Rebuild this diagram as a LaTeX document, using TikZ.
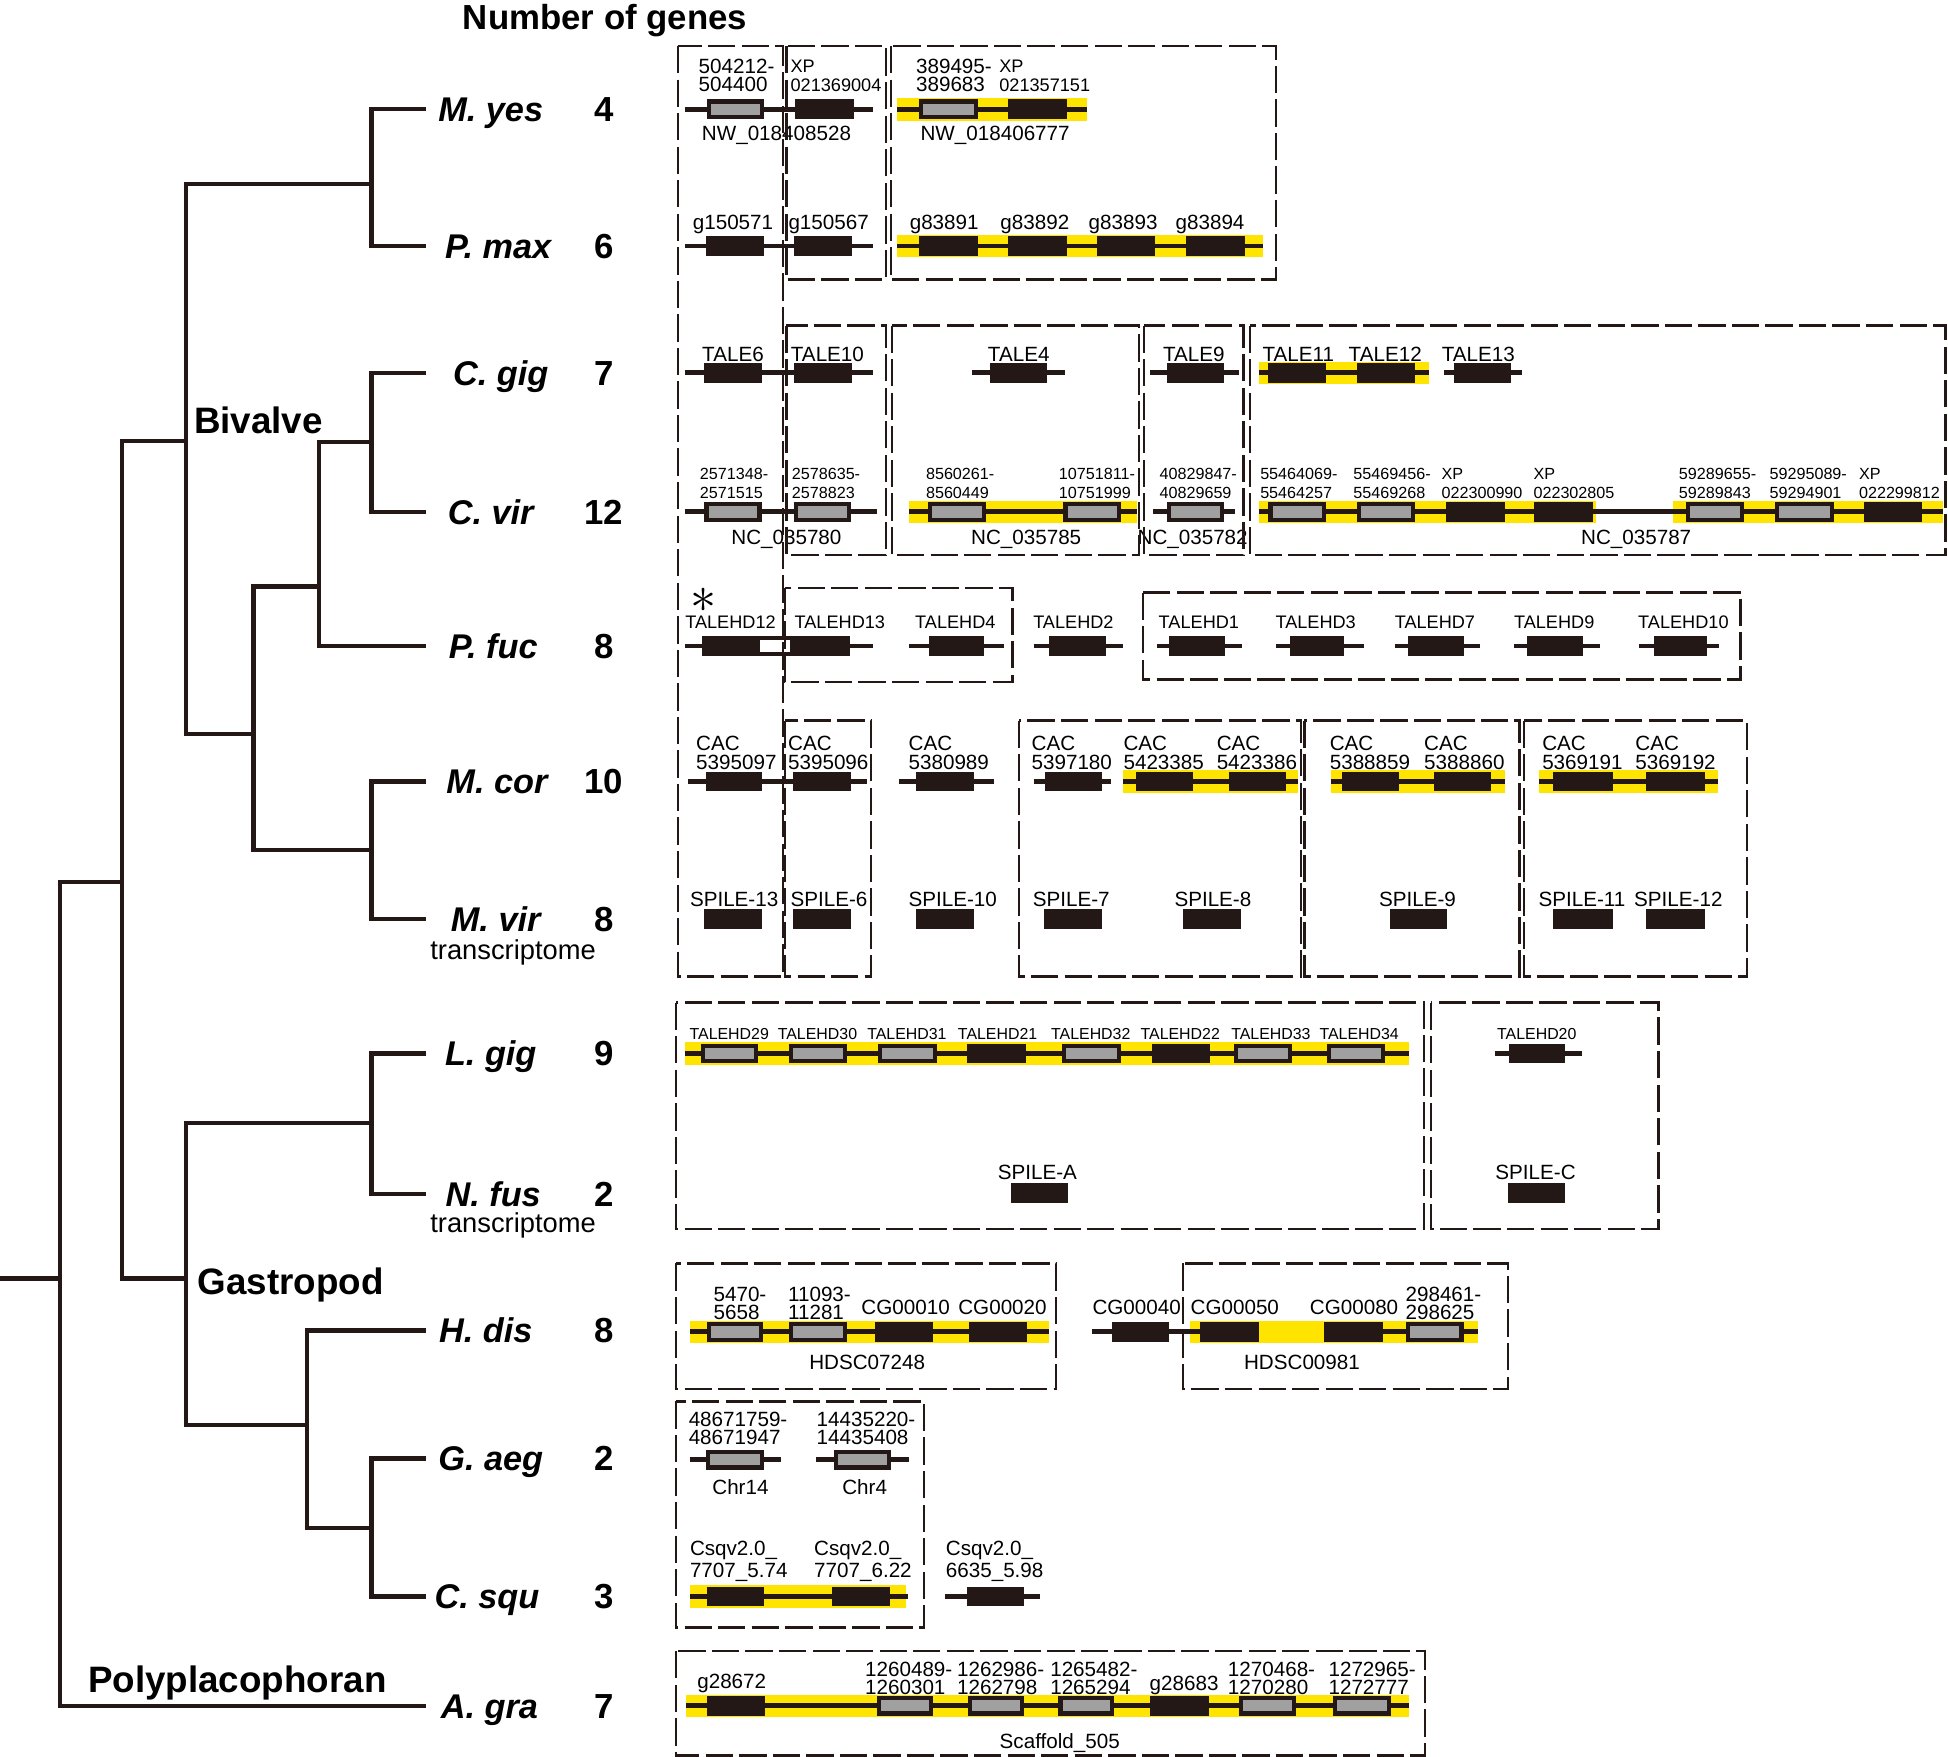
\documentclass[tikz,border=0pt]{standalone}
\usepackage{fontspec}
\setmainfont{Liberation Sans}
\definecolor{inkdark}{RGB}{35,24,21}
\definecolor{hlyellow}{RGB}{255,228,0}
\definecolor{genegrey}{RGB}{160,160,160}

% gene track elements: {x start}{x end}{row y}
\newcommand{\genetrack}[3]{\draw[track] (#1,#3) -- (#2,#3);}
\newcommand{\geneband}[3]{\fill[hlyellow] (#1,#3-9) rectangle (#2,#3+9);}
\newcommand{\geneB}[3]{\fill[inkdark] (#1,#3-8) rectangle (#2,#3+8);}
\newcommand{\geneG}[3]{\fill[inkdark] (#1,#3-8) rectangle (#2,#3+8);
  \fill[genegrey] (#1+3.3,#3-4.6) rectangle (#2-3.3,#3+4.6);}

\tikzset{
  branch/.style={draw=inkdark, line width=1.7pt},
  track/.style={draw=inkdark, line width=1.9pt},
  locus/.style={draw=inkdark, line width=0.9pt, dash pattern=on 11pt off 2.5pt},
  lab/.style={inner sep=0pt, font=\fontsize{8.3}{7.3}\selectfont},
  labtwo/.style={lab, align=left, anchor=west},
  smallnum/.style={font=\fontsize{6.5}{7.8}\selectfont},
  midlab/.style={font=\fontsize{7.3}{7.3}\selectfont},
  tinylab/.style={font=\fontsize{6.4}{7}\selectfont},
  csqlab/.style={font=\fontsize{8.3}{9}\selectfont},
  species/.style={anchor=base, inner sep=0pt, font=\fontsize{13.8}{16}\selectfont\bfseries\itshape},
  count/.style={anchor=base, inner sep=0pt, font=\fontsize{14}{16}\selectfont\bfseries},
  clade/.style={anchor=base, inner sep=0pt, font=\fontsize{14.8}{17}\selectfont\bfseries},
  seqtype/.style={anchor=base, inner sep=0pt, font=\fontsize{11}{13}\selectfont},
}

\begin{document}
\begin{tikzpicture}[x=0.5pt, y=-0.5pt]
\useasboundingbox (0,0) rectangle (1568,1414);

% tree junctions and leaf ends
\coordinate (root) at (0,1029);
\coordinate (jA) at (48,1029);
\coordinate (jMain) at (98,710);
\coordinate (jBiv) at (150,355);
\coordinate (jGas) at (150,1029);
\coordinate (jMP) at (299,148);
\coordinate (jCM) at (204,591);
\coordinate (jCP) at (257,472);
\coordinate (jCC) at (299,356);
\coordinate (jMM) at (299,684);
\coordinate (jLN) at (299,904);
\coordinate (jHG) at (247,1147);
\coordinate (jGC) at (299,1230);
\coordinate (lMyes) at (343,88);
\coordinate (lPmax) at (343,198);
\coordinate (lCgig) at (343,300);
\coordinate (lCvir) at (343,412);
\coordinate (lPfuc) at (343,520);
\coordinate (lMcor) at (343,629);
\coordinate (lMvir) at (343,740);
\coordinate (lLgig) at (343,848);
\coordinate (lNfus) at (343,961);
\coordinate (lHdis) at (343,1071);
\coordinate (lGaeg) at (343,1174);
\coordinate (lCsqu) at (343,1285);
\coordinate (lAgra) at (343,1373);

\draw[branch] (root) -- (jA);
\draw[branch] (jA) |- (jMain);
\draw[branch] (jA) |- (lAgra);
\draw[branch] (jMain) |- (jBiv);
\draw[branch] (jMain) |- (jGas);
\draw[branch] (jBiv) |- (jMP);
\draw[branch] (jBiv) |- (jCM);
\draw[branch] (jMP) |- (lMyes);
\draw[branch] (jMP) |- (lPmax);
\draw[branch] (jCM) |- (jCP);
\draw[branch] (jCM) |- (jMM);
\draw[branch] (jCP) |- (jCC);
\draw[branch] (jCP) |- (lPfuc);
\draw[branch] (jCC) |- (lCgig);
\draw[branch] (jCC) |- (lCvir);
\draw[branch] (jMM) |- (lMcor);
\draw[branch] (jMM) |- (lMvir);
\draw[branch] (jGas) |- (jLN);
\draw[branch] (jGas) |- (jHG);
\draw[branch] (jLN) |- (lLgig);
\draw[branch] (jLN) |- (lNfus);
\draw[branch] (jHG) |- (lHdis);
\draw[branch] (jHG) |- (jGC);
\draw[branch] (jGC) |- (lGaeg);
\draw[branch] (jGC) |- (lCsqu);

\node[clade] (cBiv) at (208,349) {Bivalve};
\node[clade] (cGas) at (234,1042) {Gastropod};
\node[clade] (cPol) at (191,1362) {Polyplacophoran};

% species and gene counts
\node[count] (title) at (487,24) {Number of genes};
\foreach \x/\y/\s/\n [count=\i] in {395/88/M. yes/4, 401/198/P. max/6, 403/300/C. gig/7,
    395/412/C. vir/12, 397/520/P. fuc/8, 400/629/M. cor/10, 399/740/M. vir/8,
    395/848/L. gig/9, 397/961/N. fus/2, 391/1071/H. dis/8, 395/1174/G. aeg/2,
    392/1285/C. squ/3, 394/1373/A. gra/7} {
  \node[species] (sp\i) at (\x,\y+10) {\s};
  \node[count] (nb\i) at (486,\y+10) {\n};
}
\node[seqtype] (tsMvir) at (413,772) {transcriptome};
\node[seqtype] (tsNfus) at (413,992) {transcriptome};

% M. yes
\genetrack{551}{703}{88}
\geneG{569}{615}{88}
\geneB{640}{687}{88}
\geneband{722}{875}{88}
\genetrack{722}{875}{88}
\geneG{740}{787}{88}
\geneB{811}{859}{88}
\node[labtwo] (myA) at (562,61) {504212-\\504400};
\node[labtwo, midlab] (myB) at (636,61) {XP\\021369004};
\node[lab] (myC) at (625,109) {NW\_018408528};
\node[labtwo] (myD) at (737,61) {389495-\\389683};
\node[labtwo, midlab] (myE) at (804,61) {XP\\021357151};
\node[lab] (myF) at (801,109) {NW\_018406777};

% P. max
\genetrack{551}{703}{198}
\geneB{568}{615}{198}
\geneB{639}{686}{198}
\geneband{722}{1017}{198}
\genetrack{722}{1017}{198}
\foreach \a/\b in {740/787,811/859,883/930,955/1002} {\geneB{\a}{\b}{198}}
\foreach \x/\t in {590/g150571,667/g150567,760/g83891,833/g83892,904/g83893,974/g83894}
  {\node[lab] (pm\t) at (\x,181) {\t};}

% C. gig
\genetrack{551}{703}{300}
\geneB{567}{613}{300}
\geneB{639}{686}{300}
\genetrack{782}{857}{300}
\geneB{797}{843}{300}
\genetrack{926}{997}{300}
\geneB{939}{985}{300}
\geneband{1013}{1150}{300}
\genetrack{1013}{1150}{300}
\geneB{1021}{1067}{300}
\geneB{1092}{1139}{300}
\genetrack{1162}{1225}{300}
\geneB{1170}{1216}{300}
\foreach \x/\t in {590/6,666/10,820/4,961/9,1045/11,1115/12,1190/13}
  {\node[lab] (cg\t) at (\x,285) {TALE\t};}

% C. vir
\genetrack{551}{706}{412}
\geneG{567}{613}{412}
\geneG{639}{685}{412}
\geneband{732}{915}{412}
\genetrack{732}{915}{412}
\geneG{747}{794}{412}
\geneG{856}{902}{412}
\genetrack{928}{994}{412}
\geneG{939}{985}{412}
\geneband{1013}{1285}{412}
\geneband{1347}{1564}{412}
\genetrack{1013}{1564}{412}
\geneG{1021}{1067}{412}
\geneG{1092}{1139}{412}
\geneB{1164}{1211}{412}
\geneB{1235}{1282}{412}
\geneG{1357}{1404}{412}
\geneG{1429}{1476}{412}
\geneB{1500}{1547}{412}
\foreach \x/\fa/\fb [count=\i] in {563/2571348-/2571515, 637/2578635-/2578823,
    745/8560261-/8560449, 852/10751811-/10751999, 933/40829847-/40829659,
    1014/55464069-/55464257, 1089/55469456-/55469268, 1160/XP/022300990,
    1234/XP/022302805, 1351/59289655-/59289843, 1424/59295089-/59294901,
    1496/XP/022299812}
  {\node[labtwo, smallnum] (cv\i) at (\x,389) {\fa\\\fb};}
\foreach \x/\t in {633/035780,826/035785,960/035782,1317/035787}
  {\node[lab] (nc\t) at (\x,434) {NC\_\t};}

% P. fuc
\genetrack{551}{703}{520}
\geneB{565}{684}{520}
\fill[white] (612,515.3) rectangle (636,524.7);
\foreach \a/\b in {732/808,832/904,931/1000,1027/1098,1123/1191,1219/1288,1319/1384}
  {\genetrack{\a}{\b}{520}}
\foreach \a/\b in {748/792,844/890,941/986,1038/1082,1133/1178,1229/1274,1331/1374}
  {\geneB{\a}{\b}{520}}
\foreach \x/\t in {588/12,676/13,769/4,864/2,965/1,1059/3,1155/7,1251/9,1355/10}
  {\node[lab, midlab] (pf\t) at (\x,501) {TALEHD\t};}
\node[scale=2.1, inner sep=0pt] (ast) at (566,483) {$\ast$};

% M. cor
\genetrack{554}{698}{629}
\geneB{568}{613}{629}
\geneB{638}{685}{629}
\genetrack{724}{800}{629}
\geneB{737}{784}{629}
\genetrack{832}{894}{629}
\geneB{841}{887}{629}
\geneband{904}{1045}{629}
\genetrack{904}{1045}{629}
\geneB{914}{960}{629}
\geneB{989}{1035}{629}
\geneband{1071}{1211}{629}
\genetrack{1071}{1211}{629}
\geneB{1080}{1126}{629}
\geneB{1154}{1200}{629}
\geneband{1239}{1383}{629}
\genetrack{1239}{1383}{629}
\geneB{1250}{1298}{629}
\geneB{1325}{1372}{629}
\foreach \x/\t in {560/5395097,634/5395096,731/5380989,830/5397180,904/5423385,
    979/5423386,1070/5388859,1146/5388860,1241/5369191,1316/5369192}
  {\node[labtwo] (mc\t) at (\x,606) {CAC\\\t};}

% M. vir
\foreach \a/\b in {567/613,638/685,737/784,840/887,952/999,1119/1165,1250/1298,1325/1372}
  {\geneB{\a}{\b}{740}}
\foreach \x/\t in {555/13,636/6,731/10,831/7,945/8,1238/11,1315/12}
  {\node[lab, anchor=west] (mv\t) at (\x,724) {SPILE-\t};}
\node[lab] (mv9) at (1141,724) {SPILE-9};

% L. gig
\geneband{551}{1134}{848}
\genetrack{551}{1134}{848}
\foreach \a/\b in {564/610,635/682,707/754,855/902,993/1040,1068/1115} {\geneG{\a}{\b}{848}}
\foreach \a/\b in {778/826,927/974} {\geneB{\a}{\b}{848}}
\genetrack{1203}{1273}{848}
\geneB{1215}{1260}{848}
\foreach \x/\t in {587/29,658/30,730/31,803/21,878/32,950/22,1023/33,1094/34,1237/20}
  {\node[lab, tinylab] (lg\t) at (\x,832) {TALEHD\t};}

% N. fus
\geneB{814}{860}{960}
\geneB{1214}{1260}{960}
\node[lab] (nfA) at (835,944) {SPILE-A};
\node[lab] (nfC) at (1236,944) {SPILE-C};

% H. dis
\geneband{555}{844}{1072}
\genetrack{555}{844}{1072}
\geneG{569}{614}{1072}
\geneG{635}{682}{1072}
\geneB{704}{751}{1072}
\geneB{780}{827}{1072}
\geneband{958}{1190}{1072}
\genetrack{879}{1013}{1072}
\genetrack{1066}{1190}{1072}
\geneB{895}{941}{1072}
\geneB{966}{1013}{1072}
\geneB{1066}{1113}{1072}
\geneG{1132}{1178}{1072}
\node[labtwo] (hdA) at (574,1049) {5470-\\5658};
\node[labtwo] (hdB) at (634,1049) {11093-\\11281};
\node[labtwo] (hdC) at (1131,1049) {298461-\\298625};
\foreach \x/\t in {693/CG00010,771/CG00020,879/CG00040,958/CG00050,1054/CG00080}
  {\node[lab, anchor=west] (hd\t) at (\x,1052) {\t};}
\node[lab] (hdD) at (698,1097) {HDSC07248};
\node[lab] (hdE) at (1048,1097) {HDSC00981};

% G. aeg
\genetrack{555}{629}{1175}
\geneG{568}{615}{1175}
\genetrack{657}{732}{1175}
\geneG{671}{717}{1175}
\node[labtwo] (gaA) at (554,1150) {48671759-\\48671947};
\node[labtwo] (gaB) at (657,1150) {14435220-\\14435408};
\node[lab] (gaC) at (596,1197) {Chr14};
\node[lab] (gaD) at (696,1197) {Chr4};

% C. squ
\geneband{555}{729}{1285}
\genetrack{555}{731}{1285}
\geneB{569}{615}{1285}
\geneB{670}{716}{1285}
\genetrack{761}{837}{1285}
\geneB{778}{824}{1285}
\node[labtwo, csqlab] (csA) at (555,1257) {Csqv2.0\_\\7707\_5.74};
\node[labtwo, csqlab] (csB) at (655,1257) {Csqv2.0\_\\7707\_6.22};
\node[labtwo, csqlab] (csC) at (761,1257) {Csqv2.0\_\\6635\_5.98};

% A. gra
\geneband{552}{1134}{1373}
\genetrack{552}{1134}{1373}
\foreach \a/\b in {569/616,926/973} {\geneB{\a}{\b}{1373}}
\foreach \a/\b in {706/751,779/824,852/897,997/1043,1073/1120} {\geneG{\a}{\b}{1373}}
\node[lab] (agA) at (589,1355) {g28672};
\node[lab, anchor=west] (agB) at (925,1357) {g28683};
\foreach \x/\fa/\fb [count=\i] in {696/1260489-/1260301, 770/1262986-/1262798,
    845/1265482-/1265294, 988/1270468-/1270280, 1069/1272965-/1272777}
  {\node[labtwo] (ag\i) at (\x,1351) {\fa\\\fb};}
\node[lab] (agC) at (853,1403) {Scaffold\_505};

% syntenic blocks
\foreach \a/\b/\c/\d in {546/37/630/786, 633/37/713/225, 717/37/1027/225,
    633/262/713/447, 718/262/917/447, 921/262/1001/447, 1006/262/1566/447,
    632/473/815/549, 920/477/1401/547, 632/580/701/786, 820/580/1047/786,
    1050/580/1223/786, 1227/580/1406/786, 544/807/1146/989, 1152/807/1335/989,
    544/1017/850/1118, 952/1017/1214/1118, 544/1128/744/1310, 544/1329/1147/1413}
  {\draw[locus] (\a,\b) rectangle (\c,\d);}
\end{tikzpicture}
\end{document}
